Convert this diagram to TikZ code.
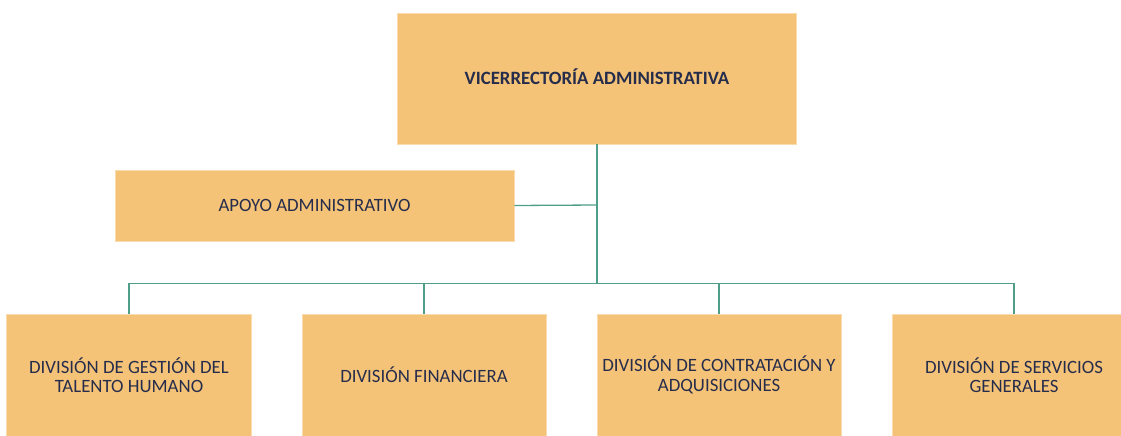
\documentclass[tikz,border=0pt]{standalone}
\usepackage{fontspec}
\setmainfont{Carlito}
\definecolor{boxfill}{HTML}{F5C377}
\definecolor{boxtext}{HTML}{262D4C}
\definecolor{linkcol}{HTML}{4E9E8A}
\begin{document}
\begin{tikzpicture}[x=1pt,y=-1pt,
  orgbox/.style={fill=boxfill,draw=boxfill!60!white,line width=0.6pt,inner sep=0pt,text=boxtext,align=center,font=\fontsize{18.8}{19.5}\selectfont},
  link/.style={draw=linkcol,line width=1.3pt}]
\useasboundingbox (0,0) rectangle (1121,436);
\node[orgbox,minimum width=399pt,minimum height=131pt,font=\bfseries\fontsize{18.8}{19.5}\selectfont] (vr) at (597,78.5) {};
\node[text=boxtext,font=\bfseries\fontsize{18.8}{19.5}\selectfont,inner sep=0pt] (vrtext) at (597,76.5) {VICERRECTORÍA ADMINISTRATIVA};
\node[orgbox,minimum width=399pt,minimum height=71pt] (apo) at (314.5,205.5) {APOYO ADMINISTRATIVO};
\node[orgbox,minimum width=245pt,minimum height=122pt] (d1) at (129,375) {DIVISIÓN DE GESTIÓN DEL\\TALENTO HUMANO};
\node[orgbox,minimum width=244pt,minimum height=122pt] (d2) at (424,375) {DIVISIÓN FINANCIERA};
\node[orgbox,minimum width=244pt,minimum height=122pt] (d3) at (719,375) {DIVISIÓN DE CONTRATACIÓN Y\\ADQUISICIONES};
\node[orgbox,minimum width=244pt,minimum height=122pt] (d4) at (1014,375) {DIVISIÓN DE SERVICIOS\\GENERALES};
\coordinate (bus) at (597,283.5);
\coordinate (mid) at (597,205);
\draw[link] (vr.south) -- (bus);
\draw[link] (apo.east) -- (mid);
\draw[link] (d1.north) |- (bus) -| (d4.north);
\draw[link] (d2.north) -- (d2.north |- bus);
\draw[link] (d3.north) -- (d3.north |- bus);
\end{tikzpicture}
\end{document}
